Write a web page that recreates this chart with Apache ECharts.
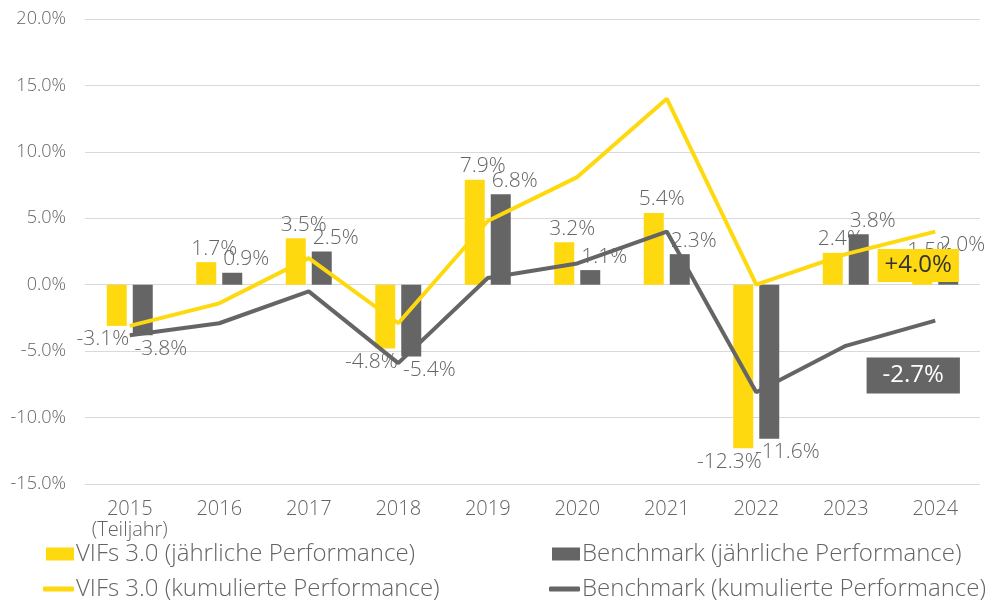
<!DOCTYPE html>
<html>
<head>
<meta charset="utf-8">
<script src="https://cdn.jsdelivr.net/npm/echarts@6.0.0/dist/echarts.min.js"></script>
<style>
  html, body { margin: 0; padding: 0; background: #fff; }
  #chart { width: 989px; height: 602px; }
</style>
</head>
<body>
<div id="chart"></div>
<script>
// Werte
var jahre = ["2015\n(Teiljahr)", "2016", "2017", "2018", "2019", "2020", "2021", "2022", "2023", "2024"];
var vifsJahr = [-3.1, 1.7, 3.5, -4.8, 7.9, 3.2, 5.4, -12.3, 2.4, 1.5];
var benchJahr = [-3.8, 0.9, 2.5, -5.4, 6.8, 1.1, 2.3, -11.6, 3.8, 2.0];
var vifsKum = [-3.1, -1.4, 2.0, -2.9, 4.8, 8.1, 14.0, 0.0, 2.3, 4.0];
var benchKum = [-3.8, -2.9, -0.5, -5.9, 0.5, 1.6, 4.0, -8.1, -4.6, -2.7];

var gelb = "#FFD90F";
var grau = "#656565";
var textGrau = "#646464";
var schrift = "Open Sans";

document.addEventListener("DOMContentLoaded", () => {
  var chart = echarts.init(document.querySelector("#chart"));

  // Balken mit Beschriftung oben oder unten je nach Vorzeichen,
  // etwas seitlich versetzt damit die Paare sich nicht ueberdecken
  function balken(werte, dxPos, dxNeg) {
    return werte.map(function (v) {
      return {
        value: v,
        label: { position: v < 0 ? "bottom" : "top", offset: [v < 0 ? dxNeg : dxPos, 0] }
      };
    });
  }

  // Box am letzten Punkt der kumulierten Linie
  function endBox(werte, label) {
    var i = werte.length - 1;
    return {
      symbol: "circle",
      symbolSize: 0,
      silent: true,
      data: [{ coord: [i, werte[i]], value: werte[i] }],
      label: label
    };
  }

  var pct = function (p) { return p.value.toFixed(1) + "%"; };

  chart.setOption({
    animation: false,
    textStyle: { fontFamily: schrift },
    grid: { left: 85, right: 9, top: 19, bottom: 118 },
    legend: [
      { data: [{ name: "VIFs 3.0 (jährliche Performance)", icon: "rect" }], left: 46, top: 542 },
      { data: [{ name: "Benchmark (jährliche Performance)", icon: "rect" }], left: 552, top: 542 },
      { data: [{ name: "VIFs 3.0 (kumulierte Performance)", icon: "roundRect" }], left: 43, top: 577, itemHeight: 5, itemWidth: 31 },
      { data: [{ name: "Benchmark (kumulierte Performance)", icon: "roundRect" }], left: 549, top: 577, itemHeight: 5, itemWidth: 31 }
    ].map(function (l) {
      return Object.assign({
        orient: "horizontal",
        padding: 0,
        itemWidth: 28,
        itemHeight: 13,
        itemGap: 2,
        selectedMode: false,
        textStyle: { color: textGrau, fontSize: 24, fontWeight: 300, fontFamily: schrift, padding: [0, 0, 0, -3] }
      }, l);
    }),
    xAxis: {
      type: "category",
      data: jahre,
      axisLine: { show: false, onZero: false },
      axisTick: { show: false },
      axisLabel: { interval: 0, color: textGrau, fontSize: 20, fontWeight: 300, margin: 15, lineHeight: 21 }
    },
    yAxis: {
      type: "value",
      min: -15,
      max: 20,
      interval: 5,
      axisLine: { show: false },
      axisTick: { show: false },
      splitLine: { lineStyle: { color: "#d9d9d9", width: 1 } },
      axisLabel: {
        color: textGrau, fontSize: 18, fontWeight: 300, margin: 19,
        formatter: function (v) { return v.toFixed(1) + "%"; }
      }
    },
    series: [
      {
        name: "VIFs 3.0 (jährliche Performance)",
        type: "bar",
        data: balken(vifsJahr, 8, -14),
        barWidth: 20,
        barGap: "30%",
        itemStyle: { color: gelb },
        label: { show: true, color: textGrau, fontSize: 21, fontWeight: 300, distance: 3, formatter: pct },
        z: 2
      },
      {
        name: "Benchmark (jährliche Performance)",
        type: "bar",
        data: balken(benchJahr, 14, 18),
        barWidth: 20,
        itemStyle: { color: grau },
        label: { show: true, color: textGrau, fontSize: 21, fontWeight: 300, distance: 3, formatter: pct },
        z: 2
      },
      {
        name: "VIFs 3.0 (kumulierte Performance)",
        type: "line",
        data: vifsKum,
        symbol: "none",
        lineStyle: { color: gelb, width: 4 },
        itemStyle: { color: gelb },
        z: 4,
        markPoint: endBox(vifsKum, {
          show: true, position: "inside", offset: [-17, 34],
          backgroundColor: gelb, color: "#333333", fontSize: 24, fontWeight: 400,
          lineHeight: 25, padding: [4, 7, 4, 7],
          formatter: function (p) { return (p.value > 0 ? "+" : "") + p.value.toFixed(1) + "%"; }
        })
      },
      {
        name: "Benchmark (kumulierte Performance)",
        type: "line",
        data: benchKum,
        symbol: "none",
        lineStyle: { color: grau, width: 4 },
        itemStyle: { color: grau },
        z: 3,
        markPoint: endBox(benchKum, {
          show: true, position: "inside", offset: [-22, 55],
          backgroundColor: grau, color: "#ffffff", fontSize: 24, fontWeight: 400,
          lineHeight: 26, padding: [5, 16, 5, 16],
          formatter: function (p) { return p.value.toFixed(1) + "%"; }
        })
      }
    ]
  });
});
</script>
</body>
</html>
